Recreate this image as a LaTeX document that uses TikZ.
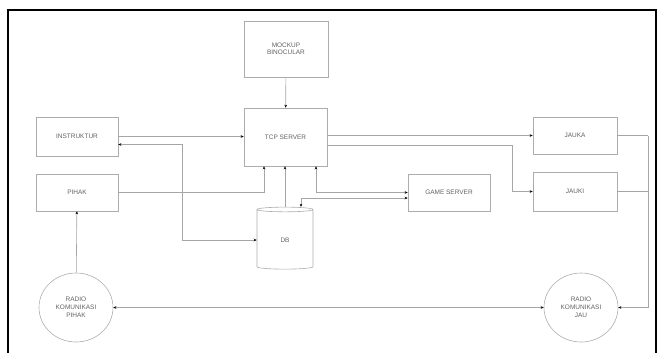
\documentclass[tikz,border=0pt]{standalone}
\usepackage{fontspec}
\setmainfont{Liberation Sans}
\usepackage{tikz}
\usetikzlibrary{shapes.geometric, arrows.meta, positioning, calc}

\begin{document}
\begin{tikzpicture}[
    x=1bp, y=-1bp,
    box/.style={draw=gray!65, minimum width=83bp, minimum height=38bp, font=\fontsize{6.5}{7.5}\selectfont, text=gray!75!black, align=center, line width=0.6bp},
    radio/.style={draw=gray!65, ellipse, minimum width=74bp, minimum height=69bp, font=\fontsize{6.5}{8}\selectfont, text=gray!75!black, align=center, line width=0.6bp},
    arr/.style={-{Stealth[length=3bp, width=2.6bp, color=black]}, draw=gray!70, line width=0.6bp},
    arrboth/.style={{Stealth[length=3bp, width=2.6bp, color=black]}-{Stealth[length=3bp, width=2.6bp, color=black]}, draw=gray!70, line width=0.6bp},
    line/.style={draw=gray!70, line width=0.6bp},
]
\useasboundingbox (0,0) rectangle (657,352);
\draw[line width=1.5bp] (8,10) rectangle (656,380);

\node[box, minimum width=84bp, minimum height=56bp] (mockup) at (286,49) {MOCKUP\\BINOCULAR};
\node[box, minimum height=58bp] (tcp) at (285.5,137) {TCP SERVER};
\node[box, minimum width=82bp, minimum height=39bp] (instr) at (77,136.5) {INSTRUKTUR};
\node[box, minimum width=82bp, minimum height=37bp] (pihak) at (77,192.5) {PIHAK};
\node[box, minimum width=82bp, minimum height=37bp] (game) at (449,192.5) {GAME SERVER};
\node[box, minimum width=84bp, minimum height=37bp] (jauka) at (575,135.5) {JAUKA};
\node[box, minimum width=84bp, minimum height=39bp] (jauki) at (575,191.5) {JAUKI};
\node[box, cylinder, shape border rotate=90, aspect=0.3, minimum width=56bp, minimum height=62bp] (db) at (285,240) {DB};
\node[radio] (radpihak) at (76,307.5) {RADIO\\KOMUNIKASI\\PIHAK};
\node[radio] (radjau) at (581,307.5) {RADIO\\KOMUNIKASI\\JAU};
\coordinate (rt) at (648,135.5);

\draw[arr] (mockup) -- (tcp);
\draw[arr] (instr.east) -- (instr.east -| tcp.west);
\draw[arrboth] ([yshift=-8bp]instr.east) -- ++(64,0) |- (db.west);
\draw[arr] (pihak.east) -| ([xshift=-21.5bp]tcp.south);
\draw[arr] (db.north) -- (db.north |- tcp.south);
\draw[arrboth] (game.west) -| ([xshift=30.5bp]tcp.south);
\draw[arrboth] ([xshift=16bp]db.north) |- ([yshift=-5.5bp]game.west);
\draw[arr] (jauka.west -| tcp.east) -- (jauka.west);
\draw[arr] ([yshift=-8bp]tcp.east) -- ++(185,0) |- (jauki.west);
\draw[line] (jauka.east) -- (rt);
\draw[line] (jauki.east) -- (jauki.east -| rt);
\draw[arr] (rt) |- (radjau.east);
\draw[arr] (radpihak) -- (pihak);
\draw[arrboth] (radpihak) -- (radjau);
\end{tikzpicture}
\end{document}
